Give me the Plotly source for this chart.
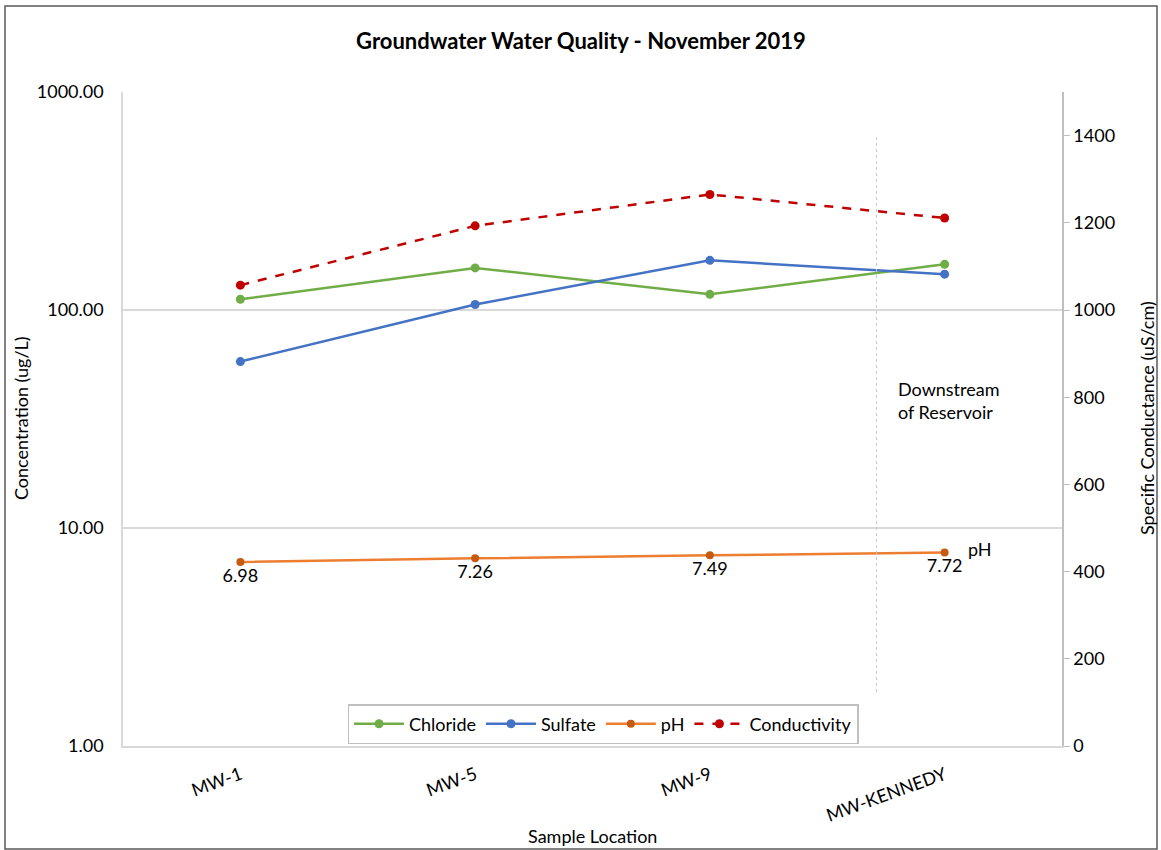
import plotly.graph_objects as go

locations = ["MW-1", "MW-5", "MW-9", "MW-KENNEDY"]
chloride = [112, 156, 118, 162]
sulfate = [58, 106, 169, 146]
ph = [6.98, 7.26, 7.49, 7.72]
conductivity = [1057, 1193, 1265, 1211]
ph_labels = ["6.98", "7.26", "7.49", "7.72"]

FONT = "Lato"
FS = 18
W, H = 1161, 850
L, T = 123, 92
R = W - 1062
B = H - 746
pw, ph_ = W - L - R, H - T - B

def px2x(px):
    return (px - L) / pw

def py2y(py):
    return (H - B - py) / ph_

fig = go.Figure()
fig.add_trace(go.Scatter(x=locations, y=chloride, name="Chloride", mode="lines+markers",
                         line=dict(color="#70ad47", width=2.5), marker=dict(size=9, color="#70ad47")))
fig.add_trace(go.Scatter(x=locations, y=sulfate, name="Sulfate", mode="lines+markers",
                         line=dict(color="#4472c4", width=2.5), marker=dict(size=9, color="#4472c4")))
fig.add_trace(go.Scatter(x=locations, y=ph, name="pH", mode="lines+markers+text",
                         text=ph_labels, textposition="bottom center",
                         textfont=dict(size=FS, color="#000000", family=FONT),
                         line=dict(color="#ed7d31", width=2.5), marker=dict(size=8, color="#c55a11")))
fig.add_trace(go.Scatter(x=locations, y=conductivity, name="Conductivity", mode="lines+markers",
                         yaxis="y2",
                         line=dict(color="#c00000", width=2.5, dash="dash"), marker=dict(size=9, color="#c00000")))

fig.update_layout(
    width=W, height=H,
    margin=dict(l=L, r=R, t=T, b=B),
    paper_bgcolor="white", plot_bgcolor="white",
    font=dict(family=FONT, size=FS, color="#000000"),
    title=dict(text="<b>Groundwater Water Quality - November 2019</b>", x=581 / W, xref="container",
               xanchor="center", y=1 - 41 / H, yanchor="middle", font=dict(size=22, family=FONT)),
    xaxis=dict(type="category", range=[-0.5, 3.5], tickangle=-20, showline=True,
               linecolor="#d9d9d9", linewidth=1.5, showgrid=False, ticks="", ticklabelstandoff=10,
               tickfont=dict(size=FS), automargin=False),
    yaxis=dict(type="log", range=[0, 3], tickvals=[1, 10, 100, 1000],
               ticktext=["1.00", "10.00", "100.00", "1000.00"], showgrid=True,
               gridcolor="#d9d9d9", gridwidth=1.5, showline=True, linecolor="#d9d9d9", linewidth=1.5,
               ticks="", ticklabelstandoff=14, tickfont=dict(size=FS), zeroline=False, automargin=False),
    yaxis2=dict(overlaying="y", side="right", range=[0, 1500], tickvals=[0, 200, 400, 600, 800, 1000, 1200, 1400],
                showgrid=False, showline=True, linecolor="#bfbfbf", linewidth=1.5, ticks="outside",
                ticklen=6, tickcolor="#bfbfbf", tickfont=dict(size=FS), zeroline=False, automargin=False),
    legend=dict(orientation="h", x=px2x(603), xanchor="center", y=py2y(744), yanchor="bottom",
                bgcolor="white", bordercolor="#bfbfbf", borderwidth=1.5, font=dict(size=FS),
                itemwidth=50, tracegroupgap=0),
    showlegend=True,
)

# axis titles
fig.add_annotation(text="Sample Location", xref="paper", yref="paper", x=px2x(592), y=py2y(836),
                   xanchor="center", yanchor="middle", showarrow=False, font=dict(size=FS, family=FONT))
fig.add_annotation(text="Concentration (ug/L)", xref="paper", yref="paper", x=px2x(21), y=py2y(418),
                   xanchor="center", yanchor="middle", textangle=-90, showarrow=False,
                   font=dict(size=FS, family=FONT))
fig.add_annotation(text="Specific Conductance (uS/cm)", xref="paper", yref="paper", x=px2x(1147), y=py2y(418),
                   xanchor="center", yanchor="middle", textangle=-90, showarrow=False,
                   font=dict(size=FS, family=FONT))

# dashed vertical separator
fig.add_shape(type="line", xref="x", yref="paper", x0=2.71, x1=2.71, y0=py2y(692), y1=py2y(135),
              line=dict(color="#c8c8c8", width=1, dash="dot"))

fig.add_annotation(text="Downstream<br>of Reservoir", xref="paper", yref="paper",
                   x=px2x(896), y=py2y(400), xanchor="left", yanchor="middle", align="left",
                   showarrow=False, font=dict(size=FS, family=FONT))
fig.add_annotation(text="pH", xref="paper", yref="paper", x=px2x(966), y=py2y(549),
                   xanchor="left", yanchor="middle", showarrow=False, font=dict(size=FS, family=FONT))

# outer border
fig.add_shape(type="rect", xref="paper", yref="paper", x0=px2x(5), x1=px2x(1157), y0=py2y(849), y1=py2y(6),
              line=dict(color="#595959", width=1.5), fillcolor="rgba(0,0,0,0)", layer="below")

fig.write_html("out.html", config={"displayModeBar": False},
               post_script="document.body.style.margin='0';")
